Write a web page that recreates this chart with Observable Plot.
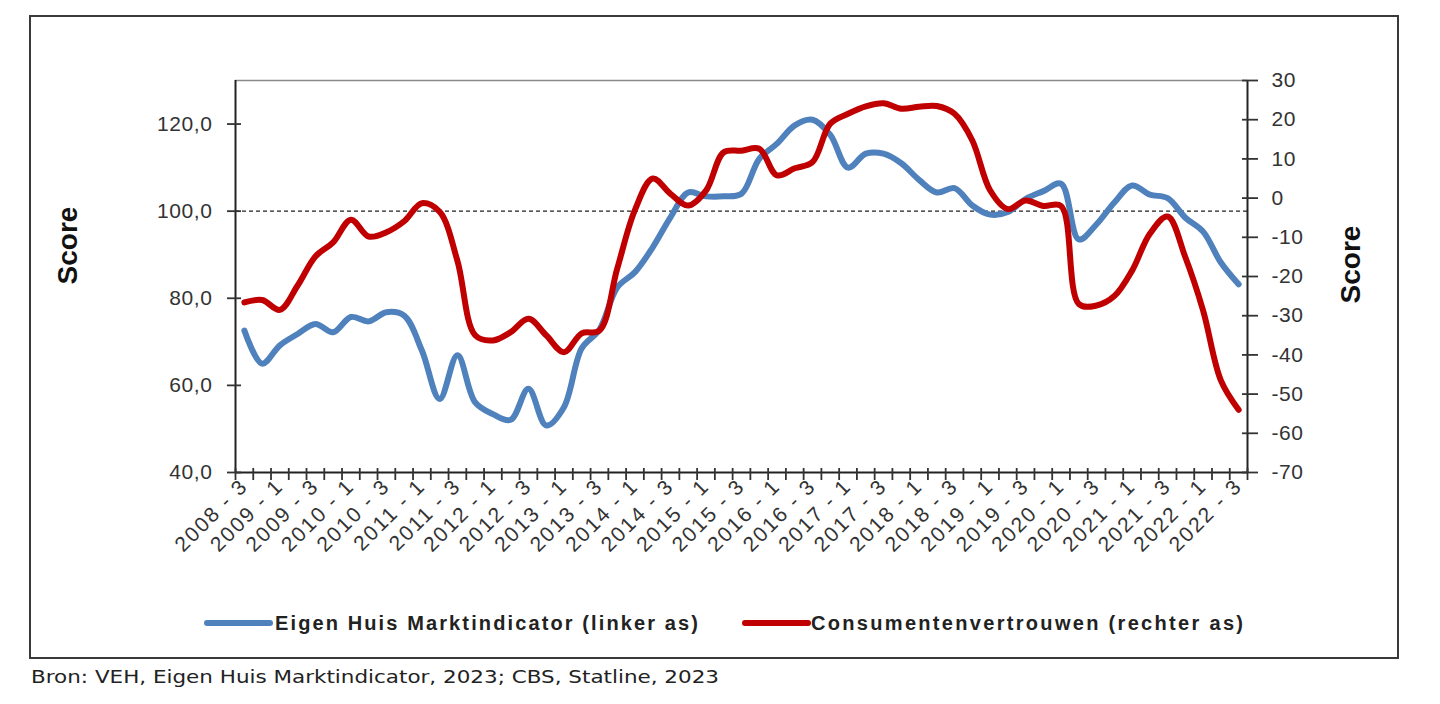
<!DOCTYPE html>
<html>
<head>
<meta charset="utf-8">
<script src="https://cdn.jsdelivr.net/npm/d3@7"></script>
<script src="https://cdn.jsdelivr.net/npm/@observablehq/plot@0.6"></script>
<style>
  html, body { margin: 0; padding: 0; background: #fff; }
  body { width: 1440px; height: 704px; position: relative; overflow: hidden; font-family: "Liberation Sans", Arial, sans-serif; }
  #chart { position: absolute; left: 0; top: 0; }
  #box { position: absolute; left: 29px; top: 15px; width: 1366px; height: 640px; border: 2px solid #3a3a3a; pointer-events: none; }
  #legend { position: absolute; left: 0; top: 598px; }
  #source { position: absolute; left: 0; top: 655px; }
  #chart svg [aria-label="x-axis tick label"] text { letter-spacing: 2px; }
  #chart svg [aria-label="y-axis tick label"] text { letter-spacing: 0.6px; }
</style>
</head>
<body>
<div id="chart"></div>
<div id="box"></div>
<svg id="legend" width="1440" height="50"></svg>
<svg id="source" width="1440" height="45"></svg>
<script>
// Categories (quarters)
const periods = [
  "2008 - 3","2008 - 4",
  "2009 - 1","2009 - 2","2009 - 3","2009 - 4",
  "2010 - 1","2010 - 2","2010 - 3","2010 - 4",
  "2011 - 1","2011 - 2","2011 - 3","2011 - 4",
  "2012 - 1","2012 - 2","2012 - 3","2012 - 4",
  "2013 - 1","2013 - 2","2013 - 3","2013 - 4",
  "2014 - 1","2014 - 2","2014 - 3","2014 - 4",
  "2015 - 1","2015 - 2","2015 - 3","2015 - 4",
  "2016 - 1","2016 - 2","2016 - 3","2016 - 4",
  "2017 - 1","2017 - 2","2017 - 3","2017 - 4",
  "2018 - 1","2018 - 2","2018 - 3","2018 - 4",
  "2019 - 1","2019 - 2","2019 - 3","2019 - 4",
  "2020 - 1","2020 - 2","2020 - 3","2020 - 4",
  "2021 - 1","2021 - 2","2021 - 3","2021 - 4",
  "2022 - 1","2022 - 2","2022 - 3"
];

// Eigen Huis Marktindicator (left axis)
const ehmValues = [
  72.6, 65.0,
  69.2, 71.8, 74.1, 72.2,
  75.7, 74.7, 76.8, 76.0,
  68.0, 56.9, 66.9, 56.1,
  53.4, 52.1, 59.2, 50.8,
  55.0, 68.5, 72.8, 82.5,
  86.0, 91.7, 98.6, 104.3,
  103.4, 103.4, 104.0, 112.0,
  115.5, 119.7, 121.0, 117.5,
  110.0, 113.2, 113.2, 111.0,
  107.2, 104.3, 105.3, 101.3,
  99.2, 99.8, 102.8, 104.6,
  106.3, 93.5, 97.0, 102.0,
  105.9, 103.8, 103.0, 98.5,
  95.3, 88.2, 83.2
];

// Consumentenvertrouwen (right axis)
const cvValues = [
  -26.6, -26.0,
  -28.5, -22.3, -14.9, -11.3,
  -5.5, -9.8, -8.7, -5.9,
  -1.3, -3.5, -16.0, -35.0,
  -36.3, -34.2, -30.8, -35.0,
  -39.3, -34.5, -33.8, -18.0,
  -3.0, 5.0, 1.1, -1.9,
  1.9, 11.7, 12.1, 12.6,
  5.8, 7.6, 9.2, 19.0,
  21.5, 23.4, 24.2, 22.8,
  23.3, 23.5, 21.5, 14.7,
  2.0, -2.8, -0.6, -2.0,
  -2.0, -27.0, -27.4, -25.0,
  -18.5, -9.1, -4.7, -15.1,
  -28.7, -46.5, -54.0
];

const leftTicks = [40, 60, 80, 100, 120];
const rightTicks = [-70, -60, -50, -40, -30, -20, -10, 0, 10, 20, 30];
const leftDomain = [40, 130];
const rightDomain = [-70, 30];
const referenceLine = [100];

const seriesNames = ["Eigen Huis Marktindicator (linker as)", "Consumentenvertrouwen (rechter as)"];
const seriesColors = ["#4f81bd", "#c00000"];
const axisTitle = "Score";
const sourceText = "Bron: VEH, Eigen Huis Marktindicator, 2023; CBS, Statline, 2023";

// map the right-axis scale onto the left-axis scale (linear correspondence of the two axes)
const k = (leftDomain[1] - leftDomain[0]) / (rightDomain[1] - rightDomain[0]);
const toLeft = r => leftDomain[0] + (r - rightDomain[0]) * k;
const fromLeft = l => rightDomain[0] + (l - leftDomain[0]) / k;

const rows = periods.map((p, i) => ({ i, p, ehm: ehmValues[i], cv: toLeft(cvValues[i]) }));
const n = periods.length;
const boundaries = d3.range(n + 1).map(j => j - 0.5);
const labelIdx = d3.range(0, n, 2);

const fontFam = "Liberation Sans, Arial, sans-serif";

const chart = Plot.plot({
  width: 1440,
  height: 600,
  marginLeft: 235,
  marginRight: 193,
  marginTop: 80,
  marginBottom: 128,
  x: { type: "linear", domain: [-0.5, n - 0.5] },
  y: { domain: leftDomain },
  style: { fontFamily: fontFam, color: "#333", background: "transparent", overflow: "visible" },
  marks: [
    Plot.ruleY(referenceLine, { stroke: "#222", strokeWidth: 1.3, strokeDasharray: "4,3" }),
    Plot.line(rows, { x: "i", y: "ehm", stroke: seriesColors[0], strokeWidth: 6, curve: "catmull-rom", strokeLinejoin: "round", strokeLinecap: "round" }),
    Plot.line(rows, { x: "i", y: "cv", stroke: seriesColors[1], strokeWidth: 6, curve: "catmull-rom", strokeLinejoin: "round", strokeLinecap: "round" }),
    Plot.ruleY([leftDomain[1]], { stroke: "#8a8a8a", strokeWidth: 1.6 }),
    Plot.ruleY([leftDomain[0]], { stroke: "#222", strokeWidth: 2 }),
    Plot.ruleX([-0.5], { stroke: "#222", strokeWidth: 2 }),
    Plot.ruleX([n - 0.5], { stroke: "#222", strokeWidth: 2 }),
    Plot.axisY({
      anchor: "left", ticks: leftTicks,
      tickFormat: d => d.toFixed(1).replace(".", ","),
      tickSize: 14, insetLeft: 6, tickPadding: 15, strokeWidth: 1.8,
      fontSize: 21, label: null, fill: "#333"
    }),
    Plot.axisY({
      anchor: "right", ticks: rightTicks.map(toLeft),
      tickFormat: d => String(Math.round(fromLeft(d))),
      tickSize: 16, insetRight: 6, tickPadding: 14, strokeWidth: 1.8,
      fontSize: 21, label: null, fill: "#333"
    }),
    Plot.axisX({
      anchor: "bottom", ticks: boundaries, tickFormat: () => "",
      tickSize: 12, insetBottom: 4, strokeWidth: 1.8, label: null
    }),
    Plot.axisX({
      anchor: "bottom", ticks: labelIdx, tickFormat: i => periods[i],
      tickSize: 0, tickPadding: 10, tickRotate: -45,
      fontSize: 21, label: null, fill: "#333"
    }),
    Plot.text([axisTitle], { text: d => d, frameAnchor: "left", textAnchor: "middle", dx: -167, dy: -31, rotate: -90, fontSize: 28, fontWeight: "bold", fill: "#111" }),
    Plot.text([axisTitle], { text: d => d, frameAnchor: "right", textAnchor: "middle", dx: 104, dy: -12, rotate: -90, fontSize: 28, fontWeight: "bold", fill: "#111" })
  ]
});
document.getElementById("chart").appendChild(chart);

// Legend
const legend = d3.select("#legend");
const legendItems = [
  { name: seriesNames[0], color: seriesColors[0], x1: 207, x2: 270, tx: 275, tl: 423 },
  { name: seriesNames[1], color: seriesColors[1], x1: 745, x2: 808, tx: 811, tl: 432 }
];
legendItems.forEach(it => {
  legend.append("line").attr("x1", it.x1).attr("x2", it.x2).attr("y1", 25).attr("y2", 25)
    .attr("stroke", it.color).attr("stroke-width", 6).attr("stroke-linecap", "round");
  legend.append("text").attr("x", it.tx).attr("y", 32).text(it.name)
    .attr("font-family", fontFam).attr("font-size", 20).attr("font-weight", "bold")
    .attr("fill", "#222").attr("textLength", it.tl).attr("lengthAdjust", "spacing");
});

// Source
d3.select("#source").append("text").attr("x", 31).attr("y", 28).text(sourceText)
  .attr("font-family", "DejaVu Sans, Verdana, sans-serif").attr("font-size", 18)
  .attr("fill", "#222").attr("textLength", 688).attr("lengthAdjust", "spacingAndGlyphs");
</script>
</body>
</html>
